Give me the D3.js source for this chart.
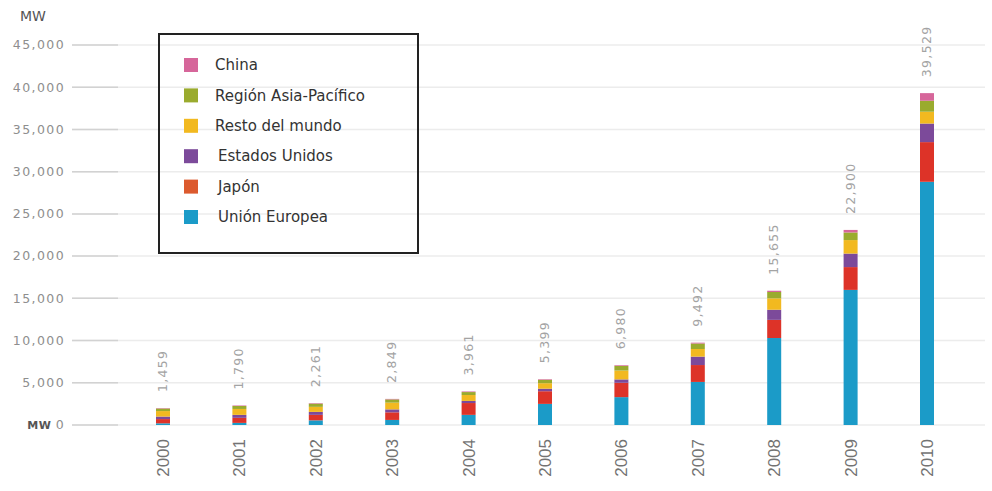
<!DOCTYPE html>
<html>
<head>
<meta charset="utf-8">
<script src="https://cdn.jsdelivr.net/npm/d3@7/dist/d3.min.js"></script>
<style>
  html, body { margin: 0; padding: 0; background: #fff; }
  svg { display: block; }
</style>
</head>
<body>
<svg id="chart" width="992" height="491"></svg>
<script>
// ---- data ----
const years = ["2000","2001","2002","2003","2004","2005","2006","2007","2008","2009","2010"];
const seriesNames = ["Unión Europea","Japón","Estados Unidos","Resto del mundo","Región Asia-Pacífico","China"];
const seriesColors = ["#1b9bc8","#dd3328","#7c4a9a","#f2b920","#9aab2e","#d6669a"];
const legendColors = ["#1b9bc8","#dc5a2e","#7c4a9a","#f2b920","#9aab2e","#d6669a"];
const unionEuropea   = [200, 250, 550, 600, 1200, 2500, 3300, 5100, 10300, 16000, 28800];
const japon          = [500, 600, 650, 900, 1400, 1500, 1700, 2000, 2150, 2700, 4700];
const estadosUnidos  = [300, 350, 350, 350, 250, 300, 400, 1000, 1200, 1600, 2200];
const restoMundo     = [650, 700, 600, 800, 700, 650, 1050, 900, 1350, 1600, 1400];
const asiaPacifico   = [300, 350, 380, 380, 350, 400, 550, 650, 750, 900, 1300];
const china          = [50, 60, 60, 60, 70, 70, 80, 100, 150, 300, 900];
const totalLabels = ["1,459","1,790","2,261","2,849","3,961","5,399","6,980","9,492","15,655","22,900","39,529"];
const yTicks = [0, 5000, 10000, 15000, 20000, 25000, 30000, 35000, 40000, 45000];

const seriesValues = [unionEuropea, japon, estadosUnidos, restoMundo, asiaPacifico, china];
const rows = years.map((y, i) => {
  const r = { year: y };
  seriesNames.forEach((s, k) => r[s] = seriesValues[k][i]);
  return r;
});

// ---- layout ----
const svg = d3.select("#chart");
const x = d3.scalePoint().domain(years).range([163, 927]);
const y = d3.scaleLinear().domain([0, 45000]).range([425, 45]);
const barW = 14;
const numFont = "DejaVu Sans, Verdana, sans-serif";

// gridlines
const grid = svg.append("g");
grid.selectAll("line.g").data(yTicks).enter().append("line")
  .attr("x1", 72).attr("x2", 985)
  .attr("y1", d => y(d)).attr("y2", d => y(d))
  .attr("stroke", "#ececec").attr("stroke-width", 1.5);
grid.selectAll("line.t").data(yTicks).enter().append("line")
  .attr("x1", 72).attr("x2", 118)
  .attr("y1", d => y(d)).attr("y2", d => y(d))
  .attr("stroke", "#d2d2d2").attr("stroke-width", 1.5);

// y tick labels
const fmt = d3.format(",");
const yl = svg.append("g").attr("font-family", numFont)
  .attr("font-size", 12.5).attr("text-anchor", "end").attr("letter-spacing", 1.4);
yTicks.forEach(t => {
  const txt = yl.append("text").attr("x", 65).attr("y", y(t)).attr("dy", "0.35em").attr("fill", "#8e8e8e");
  if (t === 0) {
    txt.append("tspan").attr("fill", "#555").attr("font-weight", "bold")
      .attr("font-size", 11).attr("letter-spacing", 0.5).text("MW ");
    txt.append("tspan").text("0");
  } else {
    txt.text(fmt(t));
  }
});
svg.append("text").attr("x", 20).attr("y", 21)
  .attr("font-family", numFont).attr("font-size", 14)
  .attr("fill", "#555").text("MW");

// stacked bars
const stack = d3.stack().keys(seriesNames)(rows);
const bars = svg.append("g");
stack.forEach((layer, k) => {
  bars.selectAll(null).data(layer).enter().append("rect")
    .attr("x", d => x(d.data.year) - barW / 2)
    .attr("width", barW)
    .attr("y", d => y(d[1]))
    .attr("height", d => y(d[0]) - y(d[1]))
    .attr("fill", seriesColors[k]);
});

// total labels (rotated)
const tops = rows.map(r => seriesNames.reduce((a, s) => a + r[s], 0));
svg.append("g").selectAll("text").data(years).enter().append("text")
  .attr("transform", (d, i) => `translate(${x(d) + 4},${y(tops[i]) - 16}) rotate(-90)`)
  .attr("font-family", numFont).attr("font-size", 12.5).attr("letter-spacing", 1.3)
  .attr("fill", "#a3a3a3").attr("text-anchor", "start")
  .text((d, i) => totalLabels[i]);

// year labels
svg.append("g").selectAll("text").data(years).enter().append("text")
  .attr("transform", d => `translate(${x(d) + 6},439) rotate(-90)`)
  .attr("font-family", "Liberation Sans, Arial, sans-serif").attr("font-size", 17)
  .attr("fill", "#737373").attr("text-anchor", "end")
  .text(d => d);

// legend
const lg = svg.append("g");
lg.append("rect").attr("x", 159).attr("y", 34).attr("width", 259).attr("height", 219)
  .attr("fill", "none").attr("stroke", "#222").attr("stroke-width", 2);
const legendOrder = [5, 4, 3, 2, 1, 0];
legendOrder.forEach((k, i) => {
  const cy = 65 + i * 30.4;
  lg.append("rect").attr("x", 184).attr("y", cy - 7).attr("width", 14).attr("height", 14)
    .attr("fill", legendColors[k]);
  lg.append("text").attr("x", i >= 3 ? 218 : 215).attr("y", cy).attr("dy", "0.35em")
    .attr("font-family", "DejaVu Sans, Verdana, sans-serif").attr("font-size", 15)
    .attr("fill", "#333").text(seriesNames[k]);
});
</script>
</body>
</html>
